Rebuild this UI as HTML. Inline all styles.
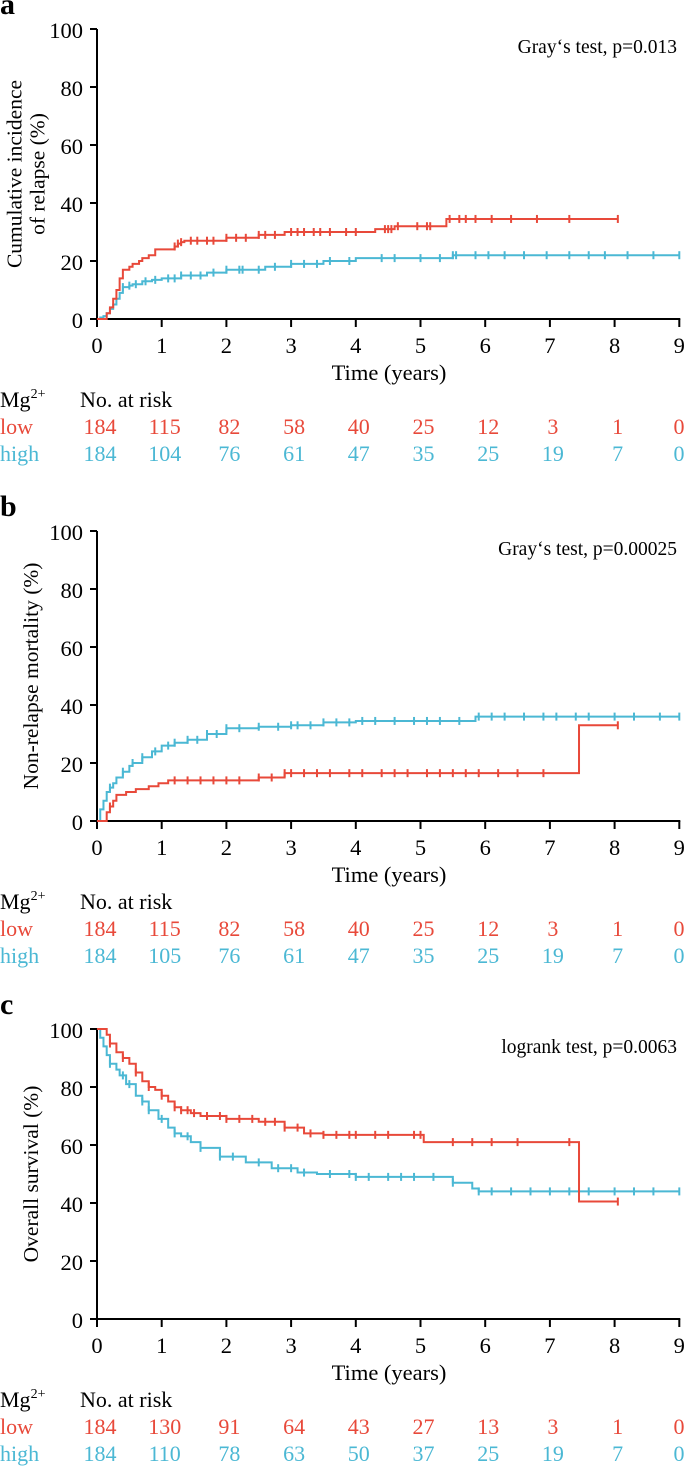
<!DOCTYPE html>
<html><head><meta charset="utf-8">
<style>
html,body{margin:0;padding:0;background:#fff;}
svg{display:block;font-family:"Liberation Serif",serif;}
</style></head>
<body>
<svg id="chart" width="685" height="1467" viewBox="0 0 685 1467" xmlns="http://www.w3.org/2000/svg"></svg>
<script>
// ---- data ----
const timeTicks = [0,1,2,3,4,5,6,7,8,9];
const yTicks = [0,20,40,60,80,100];
// panel a: cumulative incidence of relapse (step points [time, %])
const aLowT  = [0,0.1,0.15,0.2,0.25,0.3,0.35,0.4,0.5,0.55,0.65,0.7,0.8,0.9,1.15,1.2,1.25,1.3,1.35,2.0,2.5,2.9,3.2,4.3,4.6,5.4,8.05];
const aLowV  = [0,0,2,4,7,10,14,17,18,19,20,21,22,24,24,25,26,26.5,27,28,29,30,30,31,32,34.5,34.5];
const aHighT = [0,0.05,0.1,0.15,0.2,0.25,0.3,0.35,0.4,0.5,0.55,0.7,0.85,1.0,1.3,1.7,2.0,2.6,3.0,3.5,4.0,5.4,5.5,9.0];
const aHighV = [0,0.5,1,2,3.5,5,7,9,11,11.5,12,13,13.5,14,15,16,17,18,19,20,21,21,22,22];
const aLowCens  = [1.2,1.25,1.3,1.45,1.55,1.7,1.8,2.0,2.15,2.3,2.5,2.6,2.75,3.0,3.1,3.2,3.35,3.45,3.6,3.85,4.0,4.45,4.5,4.55,4.65,4.95,5.1,5.15,5.45,5.6,5.7,5.85,6.1,6.4,6.8,7.3,8.05];
const aHighCens = [0.4,0.5,0.6,0.75,0.9,1.1,1.2,1.3,1.45,1.6,1.8,2.0,2.2,2.25,2.5,2.75,3.0,3.2,3.4,3.6,3.9,4.4,4.6,5.0,5.3,5.5,5.55,5.85,6.05,6.3,6.6,6.95,7.3,7.6,7.85,8.2,8.6,9.0];
// panel b: non-relapse mortality
const bLowT  = [0,0.1,0.15,0.2,0.25,0.3,0.45,0.6,0.8,0.95,1.1,2.3,2.5,2.9,7.45,7.45,8.05];
const bLowV  = [0,0,3,5,7,9,10,11,12,13,14,14,15,16.5,16.5,33,33];
const bHighT = [0,0.05,0.1,0.15,0.2,0.25,0.3,0.4,0.5,0.55,0.7,0.85,1.0,1.2,1.4,1.7,2.0,2.5,3.0,3.5,4.0,5.85,9.0];
const bHighV = [0,4,7,10,11.5,13,15,17,19,20,22,24,26,27,28,30,32,32.5,33,34,34.5,36,36];
const bLowCens  = [0.2,1.2,1.4,1.6,1.8,2.0,2.2,2.5,2.7,2.9,3.0,3.2,3.4,3.6,3.9,4.1,4.4,4.6,4.8,5.1,5.3,5.5,5.7,5.9,6.2,6.5,6.9,8.05];
const bHighCens = [0.2,0.4,0.55,0.7,0.9,1.1,1.2,1.4,1.55,1.7,1.85,2.0,2.2,2.5,2.8,3.0,3.1,3.3,3.5,3.7,3.9,4.1,4.3,4.6,4.9,5.1,5.3,5.6,5.9,6.1,6.3,6.6,6.9,7.1,7.4,7.6,8.0,8.3,8.7,9.0];
// panel c: overall survival
const cLowT  = [0,0.15,0.2,0.3,0.4,0.5,0.6,0.7,0.8,0.9,1.0,1.1,1.2,1.3,1.45,1.6,2.0,2.5,2.9,3.2,3.5,5.05,7.45,7.45,8.05];
const cLowV  = [100,98,95,92,90,88,85,82,80,79,77,75,73,72,71,70,69,68,66,64,63.5,61,61,40.5,40.5];
const cHighT = [0,0.05,0.1,0.15,0.2,0.3,0.35,0.45,0.6,0.7,0.8,0.95,1.1,1.2,1.3,1.45,1.6,1.9,2.3,2.7,3.1,3.4,4.0,5.4,5.5,5.8,5.9,9.0];
const cHighV = [100,97,94,91,88,86,84,81,77,75,72,69,66,64,63,61,59,56,54,52,50.5,50,49,49,47,45,44,44];
const cLowCens  = [0.2,0.4,0.6,0.8,1.0,1.2,1.3,1.4,1.5,1.7,1.9,2.0,2.2,2.4,2.6,2.75,2.9,3.1,3.3,3.5,3.7,3.9,4.0,4.3,4.5,4.9,5.0,5.5,5.8,6.1,6.5,7.3,8.05];
const cHighCens = [0.2,0.4,0.5,0.7,0.8,1.0,1.2,1.4,1.6,1.9,2.1,2.5,2.8,3.0,3.2,3.6,3.9,4.0,4.2,4.5,4.7,4.9,5.2,5.5,5.9,6.1,6.4,6.7,7.0,7.3,7.6,8.0,8.3,8.6,9.0];
// risk tables
const aRiskLow  = [184,115,82,58,40,25,12,3,1,0];
const aRiskHigh = [184,104,76,61,47,35,25,19,7,0];
const bRiskLow  = [184,115,82,58,40,25,12,3,1,0];
const bRiskHigh = [184,105,76,61,47,35,25,19,7,0];
const cRiskLow  = [184,130,91,64,43,27,13,3,1,0];
const cRiskHigh = [184,110,78,63,50,37,25,19,7,0];

const RED = "#e8493a", BLUE = "#4bb8d4";
const svg = document.getElementById('chart');
const NS = "http://www.w3.org/2000/svg";
function mk(tag, attrs, parent){
  const e = document.createElementNS(NS, tag);
  for (const k in attrs) e.setAttribute(k, attrs[k]);
  (parent||svg).appendChild(e);
  return e;
}
function stepVal(T,V,t){
  let v = V[0];
  for (let i=0;i<T.length;i++){ if (T[i] <= t) v = V[i]; else break; }
  return v;
}
function panel(cfg){
  const x0=97, pxYr=64.7;
  const X = t => x0 + t*pxYr;
  const Y = v => cfg.y0 - v*(cfg.y0-cfg.y100)/100;
  const g = mk('g',{});
  
  
  const L = mk('text',{x:0,y:cfg.y100-15,'font-size':30,'font-weight':'bold'},g);
  L.textContent = cfg.letter;
  
  
  const ya = mk('line',{x1:x0,y1:cfg.y100,x2:x0,y2:cfg.y0,stroke:'#000','stroke-width':2},g);
  
  
  const xa = mk('line',{x1:x0,y1:cfg.y0,x2:X(9)+1,y2:cfg.y0,stroke:'#000','stroke-width':2},g);
  
  
  yTicks.forEach(v=>{
    mk('line',{x1:x0-7,y1:Y(v),x2:x0,y2:Y(v),stroke:'#000','stroke-width':2},g);
    const t = mk('text',{x:x0-14,y:Y(v)+9,'font-size':22.5,'text-anchor':'end'},g);
    t.textContent = v;
    
    
  });
  timeTicks.forEach(v=>{
    mk('line',{x1:X(v),y1:cfg.y0,x2:X(v),y2:cfg.y0+8,stroke:'#000','stroke-width':2},g);
    const t = mk('text',{x:X(v),y:cfg.y0+34,'font-size':22.5,'text-anchor':'middle'},g);
    t.textContent = v;
    
    
  });
  const xt = mk('text',{x:389,y:cfg.y0+61,'font-size':22.5,'text-anchor':'middle'},g);
  xt.textContent = 'Time (years)';
  
  
  const cy = (cfg.y0+cfg.y100)/2;
  cfg.ytitle.forEach((s,i)=>{
    const n = cfg.ytitle.length;
    const xx = n>1 ? 26 + (i-(n-1)/2)*23 : 31;
    const t = mk('text',{x:xx,y:cy,'font-size':21.5,'text-anchor':'middle',transform:`rotate(-90 ${xx} ${cy})`,dy:7},g);
    t.textContent = s;
    
    
  });
  const tl = mk('text',{x:677,y:cfg.y100+24,'font-size':19.5,'text-anchor':'end'},g);
  tl.textContent = cfg.test;
  
  
  [[cfg.hT,cfg.hV,cfg.hC,BLUE,'high'],[cfg.lT,cfg.lV,cfg.lC,RED,'low']].forEach(([T,V,C,col,nm])=>{
    let d = `M${X(T[0])},${Y(V[0])}`;
    for (let i=1;i<T.length;i++){ d += `H${X(T[i])}V${Y(V[i])}`; }
    const p = mk('path',{d:d,fill:'none',stroke:col,'stroke-width':2},g);
    
    
    C.forEach(t=>{
      const yy = Y(stepVal(T,V,t)), xx = X(t);
      const c = mk('line',{x1:xx,y1:yy-4,x2:xx,y2:yy+4,stroke:col,'stroke-width':2},g);
      
      
    });
  });
  const ry = cfg.y0 + 88;
  const mg = mk('text',{x:0,y:ry,'font-size':22},g);
  mg.innerHTML = 'Mg<tspan dy="-9" font-size="14">2+</tspan>';
  
  
  const nr = mk('text',{x:80,y:ry,'font-size':22},g);
  nr.textContent = 'No. at risk';
  
  
  [['low',cfg.rL,RED,ry+27],['high',cfg.rH,BLUE,ry+54]].forEach(([nm,arr,col,yy])=>{
    const lb = mk('text',{x:0,y:yy,'font-size':22,fill:col},g);
    lb.textContent = nm;
    
    
    arr.forEach((n,i)=>{
      const xx = i===9 ? 679 : X(i)+3;
      const t = mk('text',{x:xx,y:yy,'font-size':22,fill:col,'text-anchor':'middle'},g);
      t.textContent = n;
      
      
    });
  });
}
panel({name:'panel-a-relapse',letter:'a',y0:319,y100:29,ytitle:['Cumulative incidence','of relapse (%)'],test:'Gray‘s test, p=0.013',
  lT:aLowT,lV:aLowV,lC:aLowCens,hT:aHighT,hV:aHighV,hC:aHighCens,rL:aRiskLow,rH:aRiskHigh});
panel({name:'panel-b-nrm',letter:'b',y0:821,y100:531,ytitle:['Non-relapse mortality (%)'],test:'Gray‘s test, p=0.00025',
  lT:bLowT,lV:bLowV,lC:bLowCens,hT:bHighT,hV:bHighV,hC:bHighCens,rL:bRiskLow,rH:bRiskHigh});
panel({name:'panel-c-survival',letter:'c',y0:1319,y100:1029,ytitle:['Overall  survival (%)'],test:'logrank test, p=0.0063',
  lT:cLowT,lV:cLowV,lC:cLowCens,hT:cHighT,hV:cHighV,hC:cHighCens,rL:cRiskLow,rH:cRiskHigh});
</script>
</body></html>
